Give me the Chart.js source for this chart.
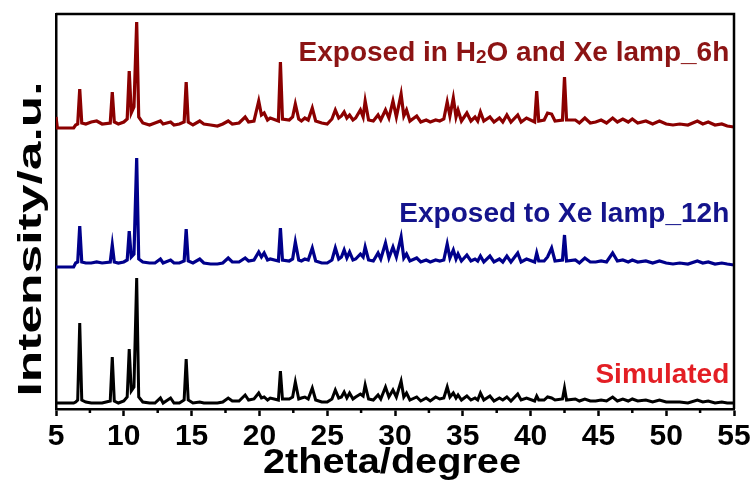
<!DOCTYPE html>
<html>
<head>
<meta charset="utf-8">
<script src="https://cdn.jsdelivr.net/npm/chart.js@4/dist/chart.umd.min.js"></script>
<style>
  html, body { margin: 0; padding: 0; background: #fff; }
  canvas { display: block; }
</style>
</head>
<body>
<canvas id="xrd" width="754" height="484"></canvas>
<script>
// 2theta grid (degrees) shared by the three patterns
const twoTheta = [
  5.0, 5.1, 6.3, 6.45, 6.6, 6.75, 6.9, 7.2, 7.6, 8.0, 8.4, 9.0, 9.15, 9.3, 9.6, 10.0,
  10.25, 10.4, 10.55, 10.75, 10.95, 11.1, 11.4, 11.9, 12.3, 12.7, 12.9, 13.45, 13.7, 14.1,
  14.45, 14.6, 14.75, 15.1, 15.6, 15.9, 16.4, 16.9, 17.3, 17.7, 18.0, 18.5, 18.95, 19.2,
  19.6, 19.95, 20.15, 20.35, 20.6, 20.8, 21.4, 21.55, 21.7, 22.2, 22.45, 22.65, 22.9,
  23.1, 23.35, 23.6, 23.9, 24.15, 24.6, 25.0, 25.35, 25.6, 25.85, 26.05, 26.25, 26.45,
  26.65, 26.9, 27.1, 27.45, 27.65, 27.8, 28.05, 28.4, 28.75, 28.95, 29.3, 29.55, 29.85,
  30.1, 30.45, 30.65, 30.85, 31.1, 31.6, 31.9, 32.3, 32.6, 33.0, 33.3, 33.6, 33.85, 34.05,
  34.3, 34.5, 34.65, 34.9, 35.3, 35.6, 35.9, 36.1, 36.3, 36.55, 37.0, 37.3, 37.7, 37.95,
  38.25, 38.55, 39.05, 39.3, 39.7, 40.3, 40.45, 40.6, 41.0, 41.25, 41.55, 41.8, 42.35, 42.5,
  42.65, 43.3, 43.6, 44.0, 44.4, 44.8, 45.2, 45.6, 46.05, 46.4, 46.8, 47.2, 47.5, 47.9,
  48.5, 49.0, 49.5, 50.0, 50.5, 51.0, 51.6, 52.3, 52.7, 53.1, 53.6, 54.1, 54.5, 55.0
];

// intensities (arbitrary units, already stacked)
const exposedH2OXe6h = [
  292, 281, 281, 284, 285, 320, 286, 285, 287, 288, 285, 286, 317, 287, 285, 287,
  290, 338, 296, 302, 387, 292, 286, 284, 286, 288, 285, 287, 284, 285,
  287, 327, 287, 284, 288, 285, 284, 283, 285, 288, 285, 286, 292, 287,
  288, 308, 294, 296, 289, 291, 288, 347, 290, 289, 292, 305, 290,
  288, 291, 289, 301, 288, 286, 285, 290, 299, 291, 293, 297, 291,
  294, 289, 291, 299, 292, 308, 289, 288, 294, 289, 299, 291, 308,
  292, 315, 293, 299, 288, 293, 287, 289, 287, 289, 288, 290, 307, 293,
  311, 292, 299, 288, 296, 288, 292, 288, 297, 288, 292, 287, 291, 287,
  294, 287, 294, 287, 291, 287, 318, 288, 289, 296, 295, 288, 289, 332,
  289, 289, 286, 291, 286, 287, 289, 286, 291, 287, 290, 287, 290, 286,
  288, 285, 288, 285, 284, 285, 284, 288, 285, 287, 284, 285, 283, 282
];

const exposedXe12h = [
  142, 142, 142, 146, 147, 183, 147, 146, 146, 147, 146, 147, 164, 147, 146, 147,
  149, 178, 152, 155, 251, 150, 147, 146, 146, 150, 146, 149, 146, 146,
  148, 180, 148, 146, 150, 146, 145, 145, 146, 151, 147, 147, 151, 148,
  149, 157, 152, 156, 149, 150, 148, 181, 149, 148, 150, 167, 149,
  148, 150, 149, 161, 148, 146, 146, 149, 161, 150, 152, 159, 151,
  157, 149, 150, 155, 152, 162, 149, 148, 156, 150, 166, 151, 162,
  152, 172, 151, 155, 148, 151, 147, 149, 147, 149, 148, 149, 165, 151,
  159, 150, 155, 148, 154, 148, 150, 148, 153, 147, 153, 147, 150, 147,
  153, 147, 156, 147, 150, 147, 156, 148, 148, 152, 161, 148, 149, 174,
  148, 149, 146, 151, 147, 147, 148, 147, 156, 148, 149, 147, 149, 147,
  148, 146, 148, 146, 145, 146, 145, 148, 146, 147, 145, 146, 145, 144
];

const simulated = [
  6, 6, 6, 7, 9, 86, 9, 7, 6, 6, 6, 8, 52, 8, 6, 8,
  12, 60, 18, 22, 131, 12, 7, 6, 6, 11, 6, 11, 6, 6,
  9, 50, 9, 6, 7, 6, 6, 6, 7, 11, 8, 8, 14, 9,
  10, 16, 11, 12, 9, 11, 9, 38, 10, 10, 12, 27, 10,
  11, 12, 10, 21, 9, 7, 7, 10, 19, 11, 12, 17, 11,
  16, 10, 12, 15, 13, 24, 10, 9, 14, 10, 22, 12, 19,
  12, 28, 12, 16, 9, 12, 8, 11, 8, 12, 10, 11, 22, 12,
  16, 11, 14, 9, 13, 9, 11, 9, 16, 9, 13, 8, 11, 9,
  12, 8, 15, 9, 11, 8, 13, 9, 9, 12, 11, 9, 10, 21,
  9, 10, 8, 10, 8, 8, 9, 8, 12, 8, 10, 8, 10, 8,
  9, 7, 9, 7, 7, 7, 6, 9, 7, 8, 6, 7, 6, 6
];

const xTickStep = 5;
const minorTicks = [7.5, 12.5, 17.5, 22.5, 27.5, 32.5, 37.5, 42.5, 47.5, 52.5];

// trace labels: text pieces (sub = subscript), anchored at right edge
const traceLabels = [
  { parts: [['Exposed in H'], ['2', 'sub'], ['O and Xe lamp_6h']], x: 54.65, y: 348, color: '#8c1414' },
  { parts: [['Exposed to Xe lamp_12h']], x: 54.65, y: 187, color: '#14148c' },
  { parts: [['Simulated']], x: 54.65, y: 26, color: '#e31e24' }
];

const toPoints = arr => twoTheta.map((t, i) => ({ x: t, y: arr[i] }));

const FONT = '"Liberation Sans", Arial, sans-serif';

const framePlugin = {
  id: 'frame',
  afterDraw(chart) {
    const { ctx, chartArea: a, scales: { x } } = chart;
    ctx.save();
    ctx.strokeStyle = '#000';
    ctx.lineWidth = 2.5;
    ctx.beginPath();
    ctx.moveTo(a.left, a.top);
    ctx.lineTo(a.right, a.top);
    ctx.lineTo(a.right, a.bottom);
    ctx.stroke();
    // minor ticks
    ctx.beginPath();
    minorTicks.forEach(v => {
      const px = x.getPixelForValue(v);
      ctx.moveTo(px, a.bottom);
      ctx.lineTo(px, a.bottom + 4);
    });
    ctx.stroke();

    // axis titles
    ctx.fillStyle = '#000';
    ctx.font = 'bold 35px ' + FONT;
    ctx.textAlign = 'center';
    ctx.textBaseline = 'alphabetic';
    let w = ctx.measureText('2theta/degree').width;
    ctx.save();
    ctx.translate(392, 473);
    ctx.scale(258 / w, 1);
    ctx.fillText('2theta/degree', 0, 0);
    ctx.restore();

    ctx.font = 'bold 34px ' + FONT;
    w = ctx.measureText('Intensity/a.u.').width;
    ctx.save();
    ctx.translate(41, 239);
    ctx.rotate(-Math.PI / 2);
    ctx.scale(315 / w, 1);
    ctx.fillText('Intensity/a.u.', 0, 0);
    ctx.restore();
    ctx.restore();
  }
};

const labelPlugin = {
  id: 'traceLabels',
  afterDatasetsDraw(chart) {
    const { ctx, scales: { x, y } } = chart;
    ctx.save();
    ctx.textBaseline = 'alphabetic';
    ctx.textAlign = 'left';
    traceLabels.forEach(l => {
      const fontFor = p => 'bold ' + (p[1] === 'sub' ? 19 : 28) + 'px ' + FONT;
      let total = 0;
      l.parts.forEach(p => { ctx.font = fontFor(p); total += ctx.measureText(p[0]).width; });
      let px = x.getPixelForValue(l.x) - total;
      const py = y.getPixelForValue(l.y);
      ctx.fillStyle = l.color;
      l.parts.forEach(p => {
        ctx.font = fontFor(p);
        ctx.fillText(p[0], px, py + (p[1] === 'sub' ? 2 : 0));
        px += ctx.measureText(p[0]).width;
      });
    });
    ctx.restore();
  }
};

new Chart(document.getElementById('xrd'), {
  type: 'line',
  data: {
    datasets: [
      { label: 'Exposed in H2O and Xe lamp_6h', data: toPoints(exposedH2OXe6h), borderColor: '#8b0000', borderWidth: 3.2 },
      { label: 'Exposed to Xe lamp_12h', data: toPoints(exposedXe12h), borderColor: '#00008b', borderWidth: 3.2 },
      { label: 'Simulated', data: toPoints(simulated), borderColor: '#000000', borderWidth: 3 }
    ]
  },
  options: {
    responsive: false,
    animation: false,
    devicePixelRatio: 1,
    layout: { padding: { top: 14, right: 20, left: 0, bottom: 0 } },
    elements: { point: { radius: 0 }, line: { tension: 0 } },
    plugins: { legend: { display: false }, tooltip: { enabled: false } },
    scales: {
      x: {
        type: 'linear',
        min: 5,
        max: 55,
        afterFit: s => { s.height = 75; },
        ticks: {
          stepSize: xTickStep,
          color: '#000',
          padding: 3,
          font: { family: FONT, size: 30, weight: 'bold' }
        },
        grid: { drawOnChartArea: false, tickLength: 7, tickWidth: 2.5, tickColor: '#000' },
        border: { display: true, color: '#000', width: 2.5 }
      },
      y: {
        min: 0,
        max: 395,
        afterFit: s => { s.width = 56; },
        ticks: { display: false },
        grid: { display: false },
        border: { display: true, color: '#000', width: 2.5 }
      }
    }
  },
  plugins: [labelPlugin, framePlugin]
});
</script>
</body>
</html>
